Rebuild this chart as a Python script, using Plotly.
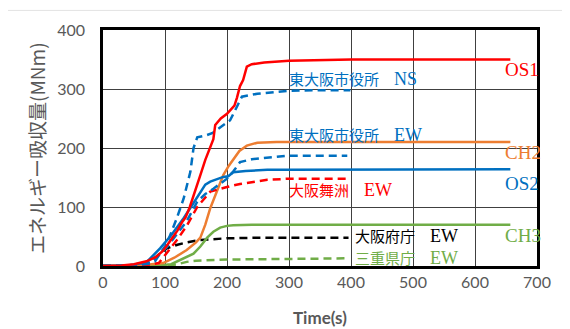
import plotly.graph_objects as go

# ---- data (time in s, energy in MNm) ----
os1_t = [0, 30, 50, 70, 85, 97, 110, 120, 128, 133, 140, 150, 157, 165, 173, 178, 181, 190, 200, 205, 212, 216, 221, 226, 232, 240, 260, 300, 400, 500, 657]
os1_y = [0, 1, 3, 8, 15, 26, 45, 60, 75, 82, 100, 130, 154, 180, 200, 215, 239, 250, 258, 264, 272, 285, 305, 315, 338, 342, 345, 348, 350, 350, 350]

ns_t = [0, 50, 75, 84, 90, 103, 119, 130, 141, 146, 152, 165, 176, 190, 205, 216, 224, 249, 275, 300, 350, 399]
ns_y = [0, 1, 4, 8, 18, 38, 81, 114, 160, 200, 218, 221, 225, 235, 247, 270, 287, 292, 295, 297, 298, 298]

ew_t = [0, 50, 80, 103, 120, 135, 152, 165, 178, 190, 200, 210, 221, 240, 265, 300, 394]
ew_y = [0, 1, 8, 32, 55, 76, 109, 122, 131, 140, 148, 160, 176, 181, 184, 187, 187]

os2_t = [0, 40, 70, 92, 110, 130, 145, 157, 165, 173, 185, 194, 202, 210, 230, 265, 300, 657]
os2_y = [0, 1, 6, 30, 52, 81, 105, 126, 138, 143, 148, 151, 152, 159, 161, 163, 163, 164]

ch2_t = [0, 60, 97, 115, 135, 150, 157, 165, 173, 184, 194, 203, 210, 220, 232, 249, 280, 657]
ch2_y = [0, 1, 5, 14, 27, 40, 48, 70, 98, 126, 154, 170, 181, 195, 204, 209, 210, 210]

maishima_t = [0, 60, 90, 103, 120, 135, 152, 173, 189, 200, 221, 240, 265, 300, 395]
maishima_y = [0, 0, 5, 22, 45, 68, 100, 126, 131, 134, 139, 142, 146, 148, 148]

fucho_t = [0, 50, 73, 90, 103, 120, 135, 155, 178, 200, 250, 300, 396]
fucho_y = [0, 0, 5, 20, 30, 36, 40, 44, 46, 47, 48, 48, 48]

ch3_t = [0, 80, 110, 124, 135, 146, 157, 168, 178, 189, 200, 210, 240, 300, 657]
ch3_y = [0, 0, 3, 10, 15, 21, 33, 48, 58, 65, 68, 69, 70, 70, 70]

mie_t = [0, 100, 120, 135, 150, 170, 200, 300, 396]
mie_y = [0, 0, 3, 7, 9, 10, 11, 12, 13]

x_ticks = [0, 100, 200, 300, 400, 500, 600, 700]
y_ticks = [0, 100, 200, 300, 400]

RED = "#FF0000"
BLUE = "#0070C0"
ORANGE = "#ED7D31"
GREEN = "#70AD47"
BLACK = "#000000"
DASH = "8px,5px"

series = [
    (mie_t, mie_y, GREEN, DASH),
    (fucho_t, fucho_y, BLACK, DASH),
    (ch3_t, ch3_y, GREEN, "solid"),
    (ch2_t, ch2_y, ORANGE, "solid"),
    (maishima_t, maishima_y, RED, DASH),
    (ew_t, ew_y, BLUE, DASH),
    (os2_t, os2_y, BLUE, "solid"),
    (ns_t, ns_y, BLUE, DASH),
    (os1_t, os1_y, RED, "solid"),
]

fig = go.Figure()
for t, y, c, d in series:
    fig.add_trace(go.Scatter(x=t, y=y, mode="lines",
                             line=dict(color=c, width=2.5, dash=d),
                             showlegend=False, hoverinfo="skip"))

LBL_FONT = "Liberation Serif, Noto Sans CJK JP, serif"
# (station, component) labels placed beside the curves
labels = [
    ("OS1", "", 645, 333, RED),
    ("東大阪市役所", "NS", 297, 317, BLUE),
    ("東大阪市役所", "EW", 297, 222, BLUE),
    ("CH2", "", 645, 193, ORANGE),
    ("OS2", "", 645, 139, BLUE),
    ("大阪舞洲", "EW", 297, 129, RED),
    ("大阪府庁", "EW", 403, 51, BLACK),
    ("CH3", "", 645, 51, GREEN),
    ("三重県庁", "EW", 403, 13, GREEN),
]
for name, comp, x, y, c in labels:
    if comp:
        txt = name + "\u3000<span style='font-size:18px'>" + comp + "</span>"
        size = 15
    else:
        txt = name
        size = 19
    fig.add_annotation(x=x, y=y, xref="x", yref="y", text=txt, showarrow=False,
                       xanchor="left", yanchor="middle",
                       font=dict(family=LBL_FONT, size=size, color=c))

fig.add_annotation(x=-67 / 434, y=0.5, xref="paper", yref="paper",
                   text="エネルギー吸収量(MNm)", textangle=-90, showarrow=False,
                   xanchor="center", yanchor="middle",
                   font=dict(family="Noto Sans CJK JP", size=19, color="#595959"))
fig.add_annotation(x=0.5, y=-53 / 241, xref="paper", yref="paper",
                   text="<b>Time(s)</b>", showarrow=False,
                   xanchor="center", yanchor="middle",
                   font=dict(family="Lato", size=17, color="#595959"))

fig.add_shape(type="line", xref="paper", yref="paper",
              x0=-103 / 434, x1=467 / 434, y0=261 / 241, y1=261 / 241,
              line=dict(color="#E3E3E3", width=1))

axis_common = dict(showgrid=True, gridcolor="#404040", gridwidth=1,
                   showline=True, linecolor="black", linewidth=2.5, mirror=True,
                   zeroline=False, ticks="",
                   tickfont=dict(family="Lato", size=16, color="#595959"))

fig.update_xaxes(range=[0, 700], tickvals=x_ticks, ticktext=[str(v) for v in x_ticks], **axis_common)
fig.update_yaxes(range=[0, 400], tickvals=y_ticks, ticktext=[str(v) for v in y_ticks],
                 ticklabelstandoff=12, **axis_common)

# page body adds an 8px margin, so the figure is offset by (8, 8)
fig.update_layout(width=562, height=321, margin=dict(l=95, r=33, t=17, b=63),
                  paper_bgcolor="white", plot_bgcolor="white")

fig.write_html("out.html")
